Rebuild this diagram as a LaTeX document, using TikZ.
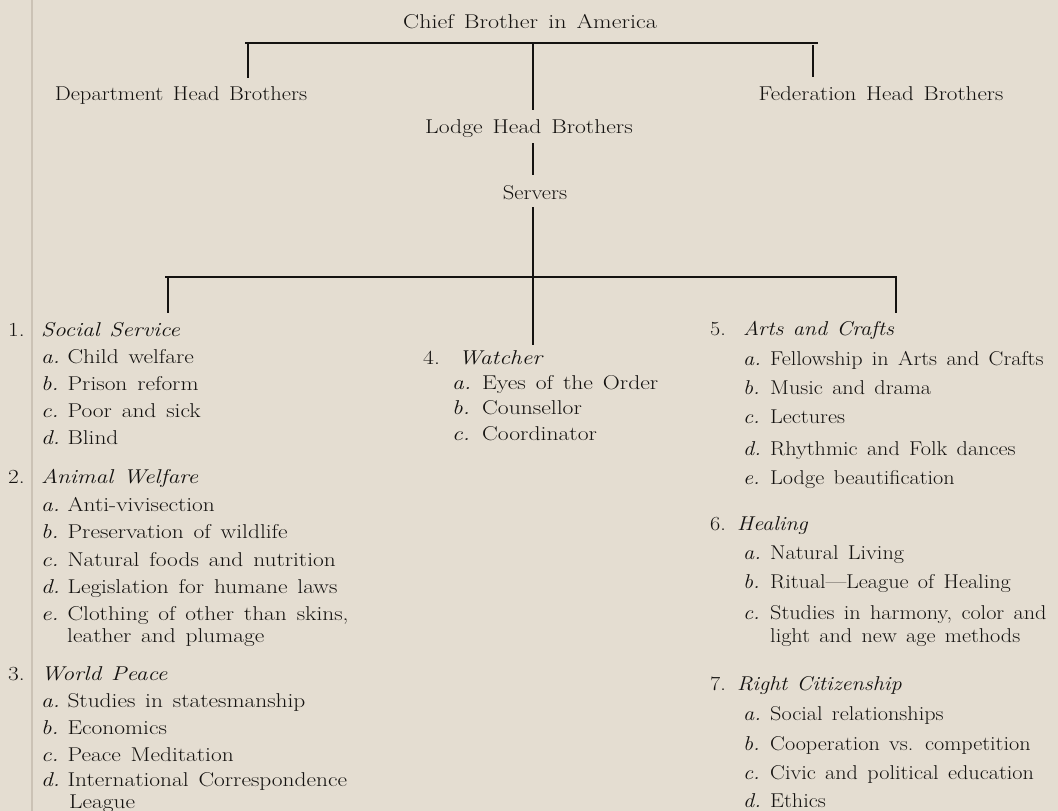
\documentclass[tikz,border=0pt]{standalone}
\usepackage{graphicx}
\usepackage{pdfrender}
\definecolor{paper}{HTML}{E4DDD1}
\definecolor{ink}{HTML}{141210}
\definecolor{fold}{HTML}{CBC2B5}
\newcommand\wordsp{\spaceskip=0.42em plus 0.1em minus 0.05em\relax}
\newcommand\heavier{\pdfrender{TextRenderingMode=FillStroke,LineWidth=0.3pt}}
\tikzset{
  lbl/.style={inner sep=0pt, text=ink, font=\fontsize{20}{24}\selectfont\wordsp\heavier},
  item/.style={lbl, anchor=base west},
  org/.style={lbl, anchor=base},
  rule/.style={draw=ink, line width=1.6pt},
}
\newcommand\sx[2]{\scalebox{#1}[1]{#2}}
% left column
\newcommand\cLi[2]{\sx{1.17}{\makebox[22.5pt][l]{\itshape #1.}#2}}
\newcommand\cLh[2]{\sx{1.17}{\makebox[28.2pt][l]{#1.}\textit{#2}}}
\newcommand\cLc[1]{\sx{1.17}{#1}}
% middle column
\newcommand\cMi[2]{\sx{1.18}{\makebox[25.4pt][l]{\itshape #1.}#2}}
\newcommand\cMh[2]{\sx{1.18}{\makebox[30pt][l]{#1.}\textit{#2}}}
% right column
\newcommand\cRi[2]{\sx{1.11}{\makebox[24.3pt][l]{\itshape #1.}#2}}
\newcommand\cRh[3]{\sx{1.11}{\makebox[#1][l]{#2.}\textit{#3}}}
\newcommand\cRc[1]{\sx{1.11}{#1}}
\begin{document}
\begin{tikzpicture}[x=1pt,y=-1pt]
\fill[paper] (0,0) rectangle (1058,811);
\useasboundingbox (0,0) rectangle (1058,811);
\draw[fold, line width=1.5pt] (32,0) -- (32,811);

% organisation chart
\node[org] (chief) at (530,28) {\sx{1.2}{Chief Brother in America}};
\node[org] (dept) at (181,100) {\sx{1.13}{Department Head Brothers}};
\node[org] (fed) at (881,100) {\sx{1.155}{Federation Head Brothers}};
\node[org] (lodge) at (529,133) {\sx{1.18}{Lodge Head Brothers}};
\node[org] (serv) at (535,199) {\sx{1.13}{Servers}};

\coordinate (barL) at (245,43);
\coordinate (barR) at (818,43);
\coordinate (tD) at (248,43);
\coordinate (tDe) at (248,78);
\coordinate (tM) at (533,43);
\coordinate (tMe) at (533,110);
\coordinate (tF) at (813,45);
\coordinate (tFe) at (813,77);
\coordinate (lS) at (533,143);
\coordinate (lSe) at (533,175);
\coordinate (sD) at (533,207);
\coordinate (sDe) at (533,345);
\coordinate (bar2L) at (165,277);
\coordinate (bar2R) at (897,277);
\coordinate (t1) at (168,277);
\coordinate (t1e) at (168,313);
\coordinate (t5) at (896,277);
\coordinate (t5e) at (896,313);

\draw[rule] (barL) -- (barR);
\draw[rule] (tD) -- (tDe);
\draw[rule] (tM) -- (tMe);
\draw[rule] (tF) -- (tFe);
\draw[rule] (lS) -- (lSe);
\draw[rule] (sD) -- (sDe);
\draw[rule] (bar2L) -- (bar2R);
\draw[rule] (t1) -- (t1e);
\draw[rule] (t5) -- (t5e);

% column 1
\node[item] (h1) at (8,336) {\cLh{1}{Social Service}};
\node[item] (h1a) at (41,363) {\cLi{a}{Child welfare}};
\node[item] (h1b) at (41,390) {\cLi{b}{Prison reform}};
\node[item] (h1c) at (41,417) {\cLi{c}{Poor and sick}};
\node[item] (h1d) at (41,444) {\cLi{d}{Blind}};

\node[item] (h2) at (8,483) {\cLh{2}{Animal Welfare}};
\node[item] (h2a) at (41,511) {\cLi{a}{Anti-vivisection}};
\node[item] (h2b) at (41,538) {\cLi{b}{Preservation of wildlife}};
\node[item] (h2c) at (41,566) {\cLi{c}{Natural foods and nutrition}};
\node[item] (h2d) at (41,593) {\cLi{d}{Legislation for humane laws}};
\node[item] (h2e) at (41,620) {\cLi{e}{Clothing of other than skins,}};
\node[item] (h2e2) at (67,642) {\cLc{leather and plumage}};

\node[item] (h3) at (8,680) {\cLh{3}{World Peace}};
\node[item] (h3a) at (41,707) {\cLi{a}{Studies in statesmanship}};
\node[item] (h3b) at (41,734) {\cLi{b}{Economics}};
\node[item] (h3c) at (41,761) {\cLi{c}{Peace Meditation}};
\node[item] (h3d) at (41,786) {\cLi{d}{International Correspondence}};
\node[item] (h3d2) at (69,808) {\cLc{League}};

% column 2
\node[item] (h4) at (423,364) {\cMh{4}{Watcher}};
\node[item] (h4a) at (452,389) {\cMi{a}{Eyes of the Order}};
\node[item] (h4b) at (452,414) {\cMi{b}{Counsellor}};
\node[item] (h4c) at (452,440) {\cMi{c}{Coordinator}};

% column 3
\node[item] (h5) at (710,335) {\cRh{29.7pt}{5}{Arts and Crafts}};
\node[item] (h5a) at (743,365) {\cRi{a}{Fellowship in Arts and Crafts}};
\node[item] (h5b) at (743,394) {\cRi{b}{Music and drama}};
\node[item] (h5c) at (743,423) {\cRi{c}{Lectures}};
\node[item] (h5d) at (743,455) {\cRi{d}{Rhythmic and Folk dances}};
\node[item] (h5e) at (743,484) {\cRi{e}{Lodge beautification}};

\node[item] (h6) at (710,530) {\cRh{24.3pt}{6}{Healing}};
\node[item] (h6a) at (743,559) {\cRi{a}{Natural Living}};
\node[item] (h6b) at (743,588) {\cRi{b}{Ritual---League of Healing}};
\node[item] (h6c) at (743,619) {\cRi{c}{Studies in harmony, color and}};
\node[item] (h6c2) at (770,642) {\cRc{light and new age methods}};

\node[item] (h7) at (710,690) {\cRh{24.3pt}{7}{Right Citizenship}};
\node[item] (h7a) at (743,720) {\cRi{a}{Social relationships}};
\node[item] (h7b) at (743,750) {\cRi{b}{Cooperation vs. competition}};
\node[item] (h7c) at (743,779) {\cRi{c}{Civic and political education}};
\node[item] (h7d) at (743,807) {\cRi{d}{Ethics}};
\end{tikzpicture}
\end{document}
